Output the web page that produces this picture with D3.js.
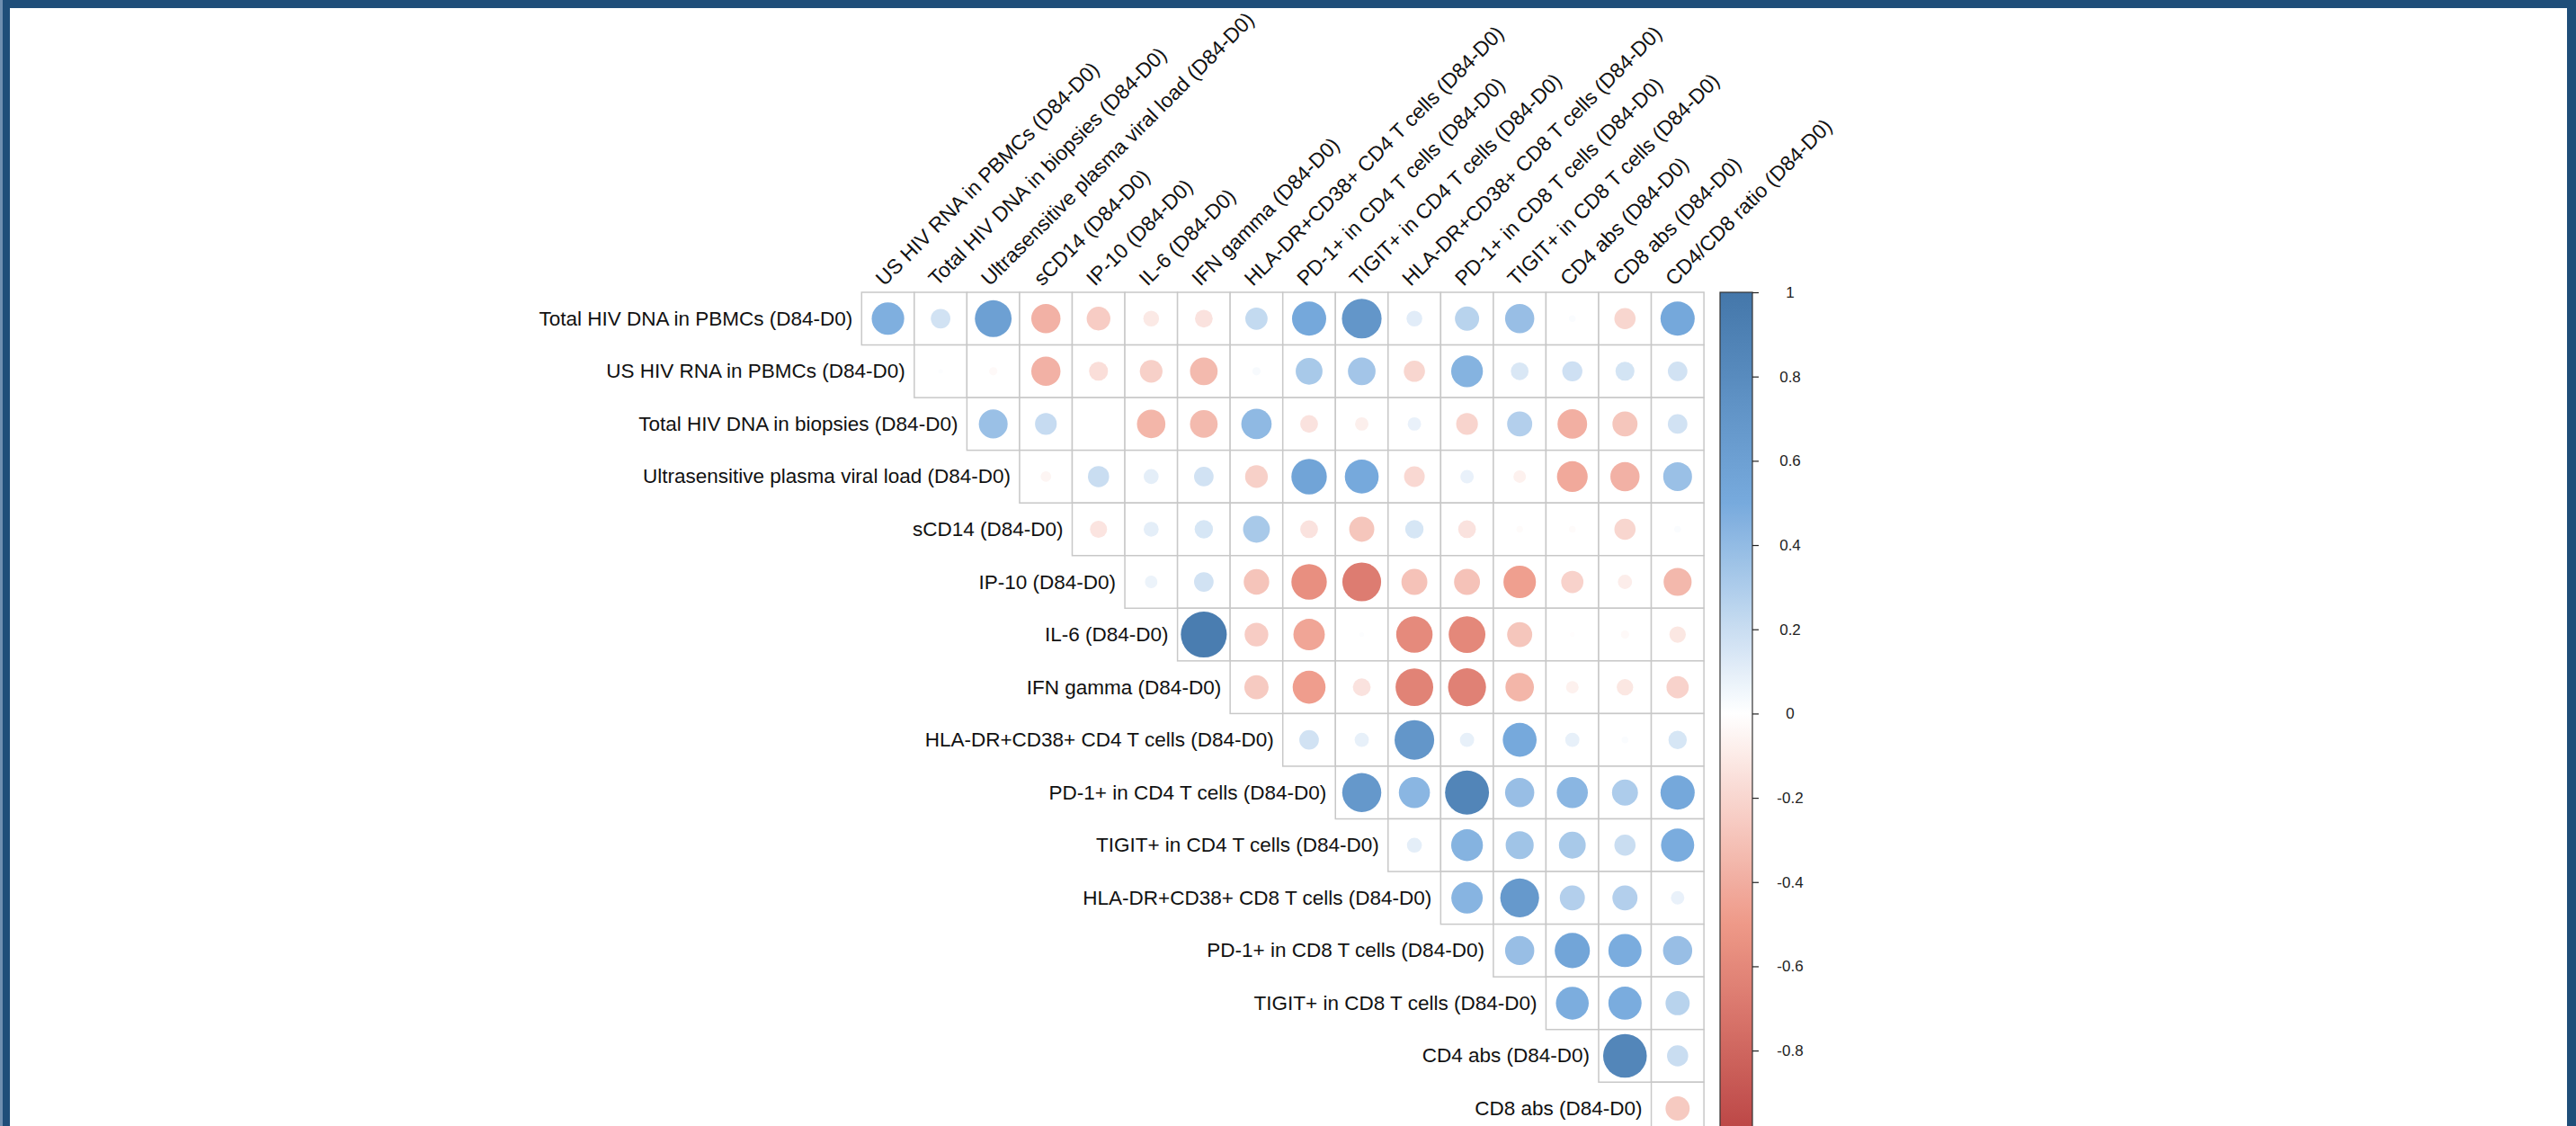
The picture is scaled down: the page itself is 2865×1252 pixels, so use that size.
<!DOCTYPE html>
<html>
<head>
<meta charset="utf-8">
<script src="https://cdn.jsdelivr.net/npm/d3@7"></script>
<style>
  html, body { margin: 0; padding: 0; background: #ffffff; }
  svg { display: block; }
</style>
</head>
<body>
<svg id="chart" width="2865" height="1252"></svg>
<script>
// Variables in the rows (upper triangle, diagonal omitted)
const rowLabels = [
  "Total HIV DNA in PBMCs (D84-D0)",
  "US HIV RNA in PBMCs (D84-D0)",
  "Total HIV DNA in biopsies (D84-D0)",
  "Ultrasensitive plasma viral load (D84-D0)",
  "sCD14 (D84-D0)",
  "IP-10 (D84-D0)",
  "IL-6 (D84-D0)",
  "IFN gamma (D84-D0)",
  "HLA-DR+CD38+ CD4 T cells (D84-D0)",
  "PD-1+ in CD4 T cells (D84-D0)",
  "TIGIT+ in CD4 T cells (D84-D0)",
  "HLA-DR+CD38+ CD8 T cells (D84-D0)",
  "PD-1+ in CD8 T cells (D84-D0)",
  "TIGIT+ in CD8 T cells (D84-D0)",
  "CD4 abs (D84-D0)",
  "CD8 abs (D84-D0)"
];

// Variables in the columns
const colLabels = [
  "US HIV RNA in PBMCs (D84-D0)",
  "Total HIV DNA in biopsies (D84-D0)",
  "Ultrasensitive plasma viral load (D84-D0)",
  "sCD14 (D84-D0)",
  "IP-10 (D84-D0)",
  "IL-6 (D84-D0)",
  "IFN gamma (D84-D0)",
  "HLA-DR+CD38+ CD4 T cells (D84-D0)",
  "PD-1+ in CD4 T cells (D84-D0)",
  "TIGIT+ in CD4 T cells (D84-D0)",
  "HLA-DR+CD38+ CD8 T cells (D84-D0)",
  "PD-1+ in CD8 T cells (D84-D0)",
  "TIGIT+ in CD8 T cells (D84-D0)",
  "CD4 abs (D84-D0)",
  "CD8 abs (D84-D0)",
  "CD4/CD8 ratio (D84-D0)"
];

// Spearman correlations; row i holds the values for columns i .. 15
const corrRows = [
  [0.47, 0.17, 0.60, -0.38, -0.25, -0.11, -0.14, 0.22, 0.52, 0.70, 0.11, 0.26, 0.38, 0.02, -0.20, 0.52],
  [0.01, -0.03, -0.38, -0.16, -0.23, -0.34, 0.03, 0.32, 0.34, -0.20, 0.45, 0.14, 0.18, 0.16, 0.17],
  [0.37, 0.21, 0.00, -0.36, -0.34, 0.41, -0.14, -0.08, 0.08, -0.21, 0.28, -0.39, -0.28, 0.17],
  [-0.05, 0.20, 0.10, 0.17, -0.23, 0.56, 0.51, -0.19, 0.08, -0.07, -0.42, -0.38, 0.37],
  [-0.13, 0.10, 0.15, 0.32, -0.14, -0.28, 0.15, -0.14, -0.02, -0.02, -0.20, 0.02],
  [0.07, 0.17, -0.29, -0.56, -0.67, -0.30, -0.30, -0.47, -0.22, -0.09, -0.35],
  [0.94, -0.25, -0.44, 0.01, -0.59, -0.60, -0.28, -0.01, -0.03, -0.12],
  [-0.26, -0.48, -0.14, -0.63, -0.64, -0.36, -0.07, -0.12, -0.22],
  [0.17, 0.09, 0.70, 0.09, 0.51, 0.09, 0.02, 0.15],
  [0.68, 0.43, 0.86, 0.38, 0.43, 0.30, 0.52],
  [0.10, 0.45, 0.35, 0.32, 0.20, 0.49],
  [0.44, 0.67, 0.28, 0.28, 0.08],
  [0.38, 0.55, 0.49, 0.38],
  [0.48, 0.49, 0.26],
  [0.85, 0.20],
  [-0.26]
];

// Colour legend (the -1 end falls below the visible area)
const legendTicks = [1, 0.8, 0.6, 0.4, 0.2, 0, -0.2, -0.4, -0.6, -0.8];
const paletteStops = [-1, -0.5, 0, 0.5, 1];
const paletteColors = ["#BB4444", "#EE9988", "#FFFFFF", "#77AADD", "#4477AA"];

const W = 2865, H = 1252;
const cell = 58.55;
const gridLeft = 958.3, gridTop = 325;
const n = colLabels.length;
const fontFamily = "'Liberation Sans', Arial, sans-serif";

const svg = d3.select("#chart");

// Page frame
const frame = "#1f4e79";
svg.append("rect").attr("x", 0).attr("y", 0).attr("width", W).attr("height", H).attr("fill", "#ffffff");
svg.append("rect").attr("x", 0).attr("y", 0).attr("width", W).attr("height", 9).attr("fill", frame);
svg.append("rect").attr("x", 0).attr("y", 0).attr("width", 3).attr("height", H).attr("fill", "#6f8fb0");
svg.append("rect").attr("x", 3).attr("y", 0).attr("width", 8).attr("height", H).attr("fill", frame);
svg.append("rect").attr("x", W - 10).attr("y", 0).attr("width", 10).attr("height", H).attr("fill", frame);

const x = d3.scaleBand().domain(d3.range(n)).range([gridLeft, gridLeft + n * cell]).padding(0);
const y = d3.scaleBand().domain(d3.range(rowLabels.length)).range([gridTop, gridTop + rowLabels.length * cell]).padding(0);
const color = d3.scaleLinear().domain(paletteStops).range(paletteColors).interpolate(d3.interpolateRgb).clamp(true);
const radius = d3.scaleSqrt().domain([0, 1]).range([0, 0.45 * cell]);

// Flatten the triangle into cells
const cells = [];
corrRows.forEach((vals, i) => {
  vals.forEach((v, k) => cells.push({ row: i, col: i + k, value: v }));
});

const g = svg.append("g");

// Cell borders
g.selectAll("rect.cell")
  .data(cells)
  .join("rect")
  .attr("class", "cell")
  .attr("x", d => x(d.col))
  .attr("y", d => y(d.row))
  .attr("width", x.bandwidth())
  .attr("height", y.bandwidth())
  .attr("fill", "#ffffff")
  .attr("stroke", "#c8c8c8")
  .attr("stroke-width", 1.5);

// Circles: area proportional to |r|, colour from the palette
g.selectAll("circle.corr")
  .data(cells)
  .join("circle")
  .attr("class", "corr")
  .attr("cx", d => x(d.col) + x.bandwidth() / 2)
  .attr("cy", d => y(d.row) + y.bandwidth() / 2)
  .attr("r", d => radius(Math.abs(d.value)))
  .attr("fill", d => color(d.value));

// Row labels, right-aligned against the first cell of each row
g.selectAll("text.rowlab")
  .data(rowLabels)
  .join("text")
  .attr("class", "rowlab")
  .attr("x", (d, i) => x(i) - 10)
  .attr("y", (d, i) => y(i) + y.bandwidth() / 2)
  .attr("text-anchor", "end")
  .attr("dominant-baseline", "central")
  .attr("font-family", fontFamily)
  .attr("font-size", 22.5)
  .attr("fill", "#111")
  .text(d => d);

// Column labels at 45 degrees
g.selectAll("text.collab")
  .data(colLabels)
  .join("text")
  .attr("class", "collab")
  .attr("transform", (d, j) => `translate(${x(j) + x.bandwidth() / 2 - 4},${gridTop - 6}) rotate(-45)`)
  .attr("text-anchor", "start")
  .attr("font-family", fontFamily)
  .attr("font-size", 23)
  .attr("fill", "#111")
  .text(d => d);

// Colour bar
const barX = 1913, barW = 36;
const barTop = gridTop, barBottom = gridTop + rowLabels.length * cell;
const yBar = d3.scaleLinear().domain([-1, 1]).range([barBottom, barTop]);

const defs = svg.append("defs");
const grad = defs.append("linearGradient")
  .attr("id", "corrGrad").attr("x1", 0).attr("y1", 1).attr("x2", 0).attr("y2", 0);
grad.selectAll("stop")
  .data(d3.range(-1, 1.0001, 0.05))
  .join("stop")
  .attr("offset", d => (d + 1) / 2)
  .attr("stop-color", d => color(d));

svg.append("rect")
  .attr("x", barX).attr("y", barTop)
  .attr("width", barW).attr("height", barBottom - barTop)
  .attr("fill", "url(#corrGrad)")
  .attr("stroke", "#333")
  .attr("stroke-width", 1.2);

const axis = svg.append("g")
  .attr("transform", `translate(${barX + barW},0)`)
  .call(d3.axisRight(yBar).tickValues(legendTicks).tickSize(7).tickFormat(d3.format("")));
axis.select(".domain").remove();
axis.selectAll(".tick line").attr("stroke", "#222").attr("stroke-width", 1.2);
axis.selectAll(".tick text")
  .attr("x", 42)
  .attr("text-anchor", "middle")
  .attr("font-family", fontFamily)
  .attr("font-size", 17)
  .attr("fill", "#222")
  .text(d => d3.format("")(d).replace("−", "-"));
</script>
</body>
</html>
